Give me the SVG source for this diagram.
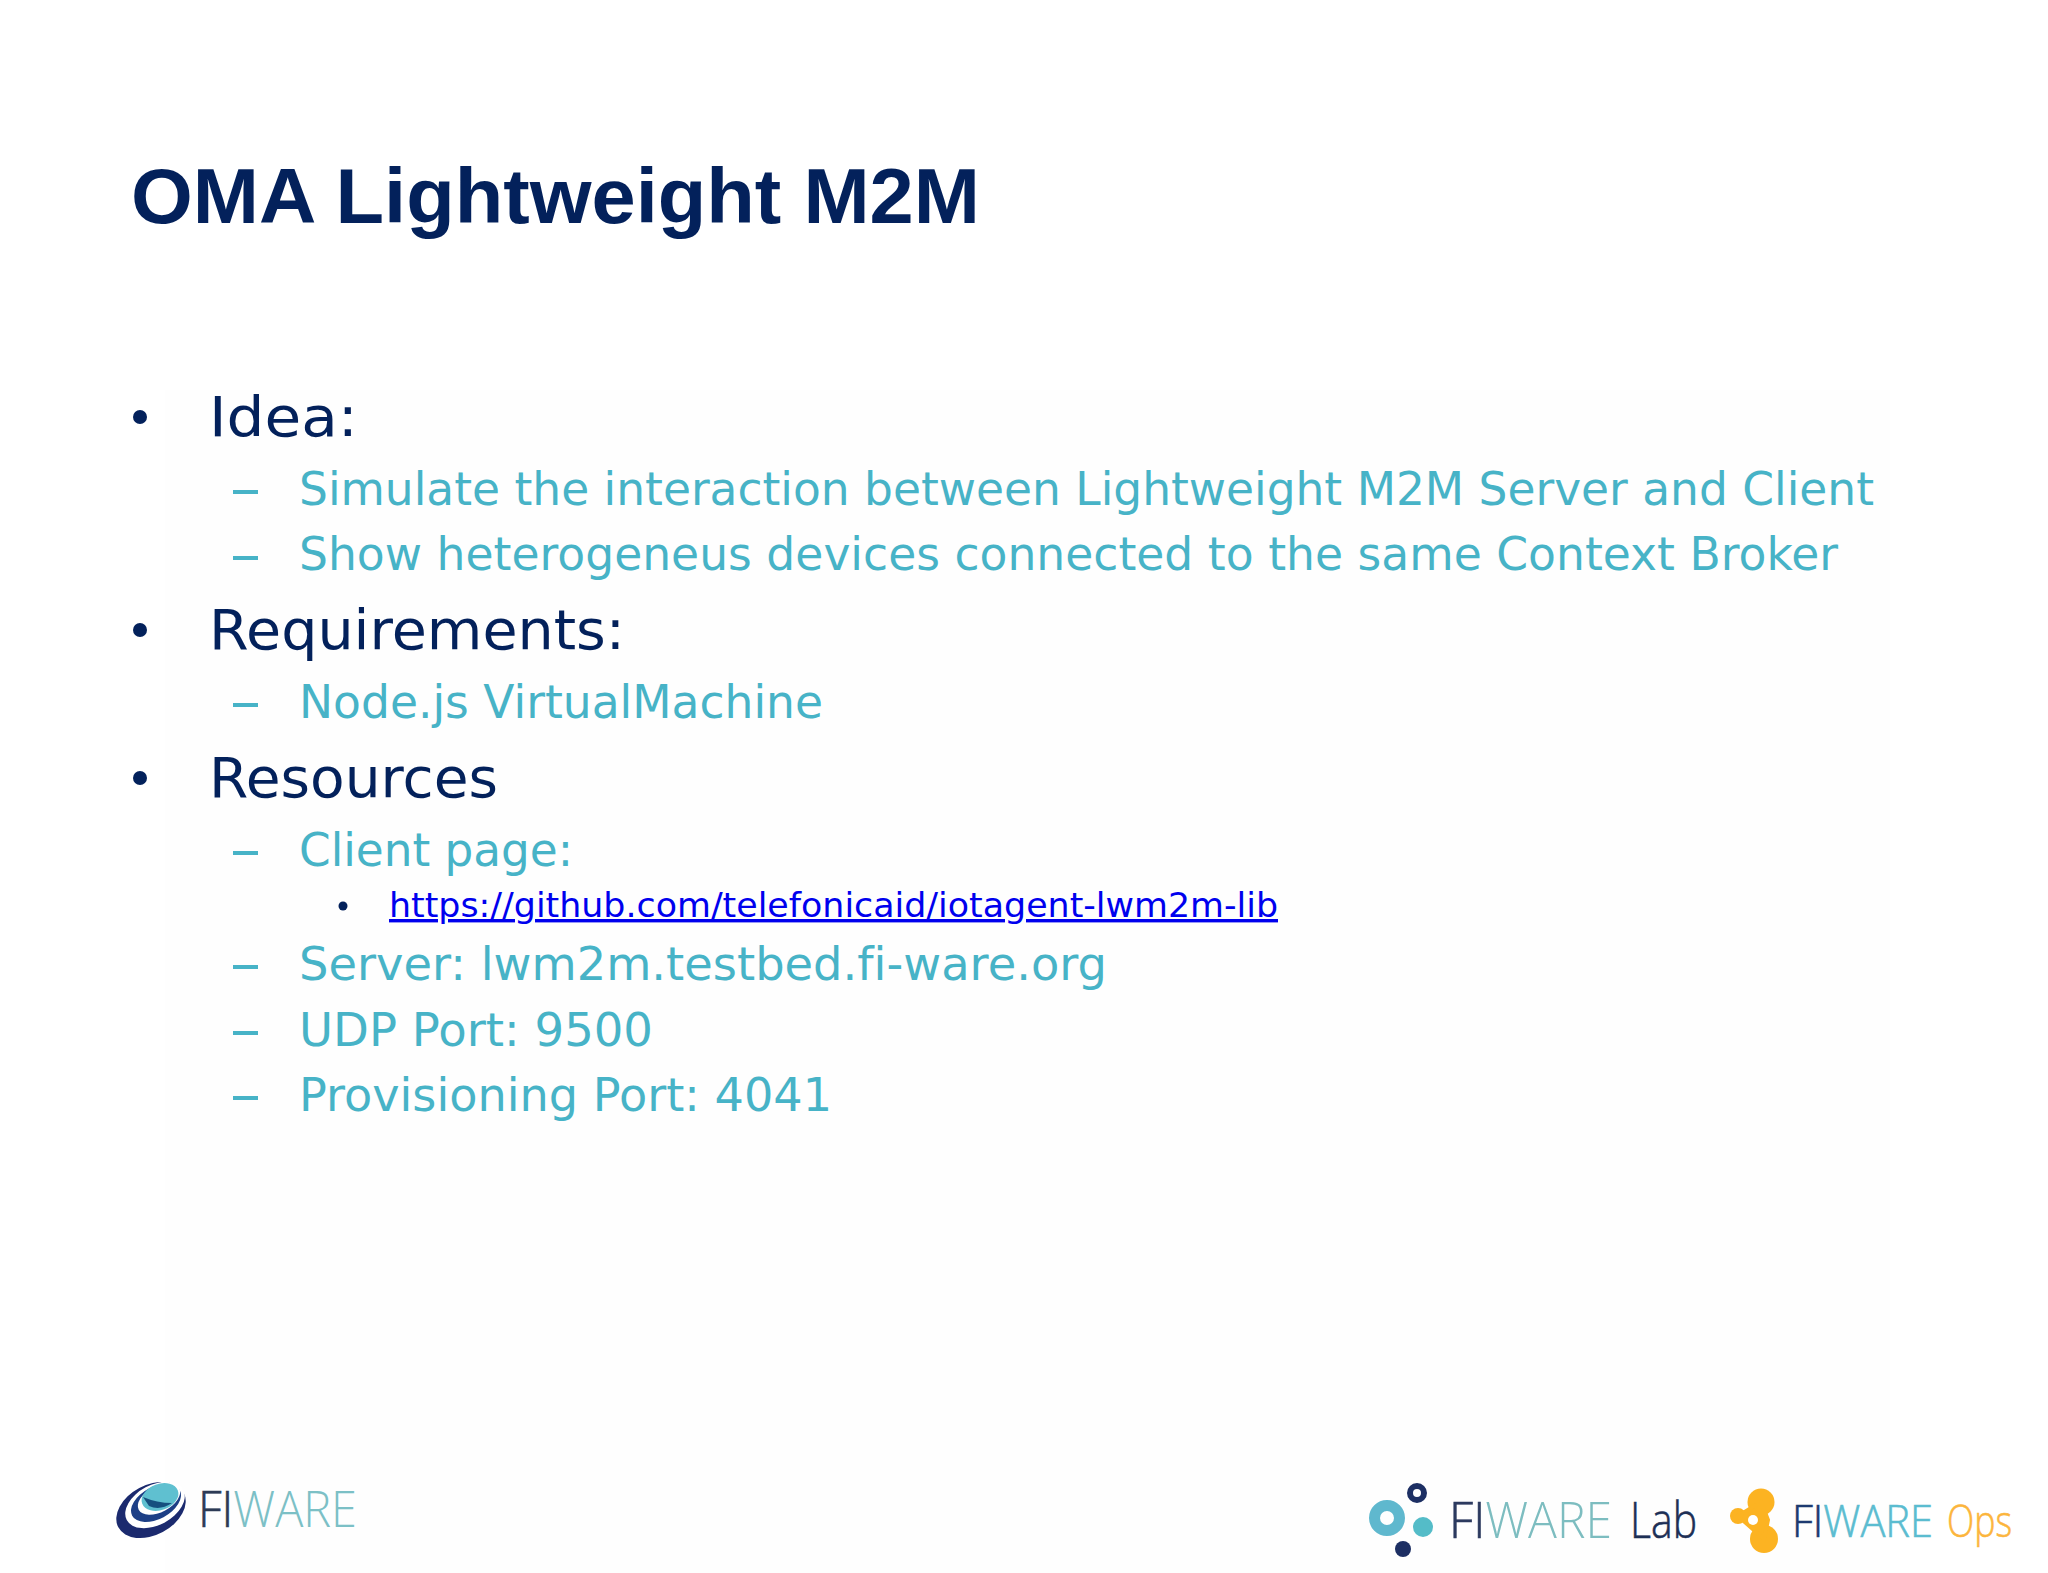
<svg xmlns="http://www.w3.org/2000/svg" width="2048" height="1573" viewBox="0 0 2048 1573">
<style>
text{font-family:"DejaVu Sans",Verdana,sans-serif;font-variant-ligatures:none}
.t{font-family:"Liberation Sans",Arial,sans-serif;font-weight:700;font-size:78px;fill:#03215b}
.a{font-size:56px;fill:#03215b}
.b{font-size:46px;fill:#47b3c7}
.c{font-size:34px;fill:#0000ee;text-decoration:underline}
.d{fill:#47b3c7}
.lg{font-family:"Open Sans","DejaVu Sans",sans-serif;font-weight:300;font-size:49px;stroke-width:.6px}
</style>
<rect width="2048" height="1573" fill="#fff"/>
<rect x="165" y="390" width="1725" height="1183" fill="#fefefe"/>
<g id="title"><text class="t" x="131" y="223" textLength="849" lengthAdjust="spacingAndGlyphs">OMA Lightweight M2M</text></g>
<g id="body">
<circle cx="140" cy="417" r="7" fill="#03215b"/>
<text class="a" x="209" y="436" textLength="149" lengthAdjust="spacingAndGlyphs">Idea:</text>
<rect class="d" x="233" y="490" width="25" height="4"/>
<text class="b" x="299" y="505" textLength="1575" lengthAdjust="spacingAndGlyphs">Simulate the interaction between Lightweight M2M Server and Client</text>
<rect class="d" x="233" y="556" width="25" height="4"/>
<text class="b" x="299" y="570" textLength="1539" lengthAdjust="spacingAndGlyphs">Show heterogeneus devices connected to the same Context Broker</text>
<circle cx="140" cy="630" r="7" fill="#03215b"/>
<text class="a" x="209" y="649" textLength="416" lengthAdjust="spacingAndGlyphs">Requirements:</text>
<rect class="d" x="233" y="703" width="25" height="4"/>
<text class="b" x="299" y="718" textLength="524" lengthAdjust="spacingAndGlyphs">Node.js VirtualMachine</text>
<circle cx="140" cy="778" r="7" fill="#03215b"/>
<text class="a" x="209" y="797" textLength="289" lengthAdjust="spacingAndGlyphs">Resources</text>
<rect class="d" x="233" y="851" width="25" height="4"/>
<text class="b" x="299" y="866" textLength="274" lengthAdjust="spacingAndGlyphs">Client page:</text>
<circle cx="343" cy="906" r="4.5" fill="#03215b"/>
<text class="c" x="389" y="917" textLength="889" lengthAdjust="spacingAndGlyphs">https://github.com/telefonicaid/iotagent-lwm2m-lib</text>
<rect class="d" x="233" y="965" width="25" height="4"/>
<text class="b" x="299" y="980" textLength="808" lengthAdjust="spacingAndGlyphs">Server: lwm2m.testbed.fi-ware.org</text>
<rect class="d" x="233" y="1031" width="25" height="4"/>
<text class="b" x="299" y="1046" textLength="354" lengthAdjust="spacingAndGlyphs">UDP Port: 9500</text>
<rect class="d" x="233" y="1096" width="25" height="4"/>
<text class="b" x="299" y="1111" textLength="533" lengthAdjust="spacingAndGlyphs">Provisioning Port: 4041</text>
</g>
<g id="logo-fiware">
<ellipse cx="151" cy="1510" rx="37" ry="25" fill="#1b2a6e" transform="rotate(-28 151 1510)"/>
<ellipse cx="155" cy="1505" rx="32" ry="20" fill="#fff" transform="rotate(-28 155 1505)"/>
<ellipse cx="156" cy="1503" rx="27" ry="16" fill="#1d3f86" transform="rotate(-28 156 1503)"/>
<ellipse cx="159" cy="1499" rx="23" ry="13" fill="#fff" transform="rotate(-28 159 1499)"/>
<ellipse cx="160" cy="1497" rx="19" ry="13" fill="#5fc0d0" transform="rotate(-20 160 1497)"/>
<path d="M143 1497Q157 1503 172 1503Q160 1511 149 1506Z" fill="#16507f"/>
<text class="lg" x="198" y="1527" textLength="159" lengthAdjust="spacingAndGlyphs"><tspan fill="#2c3a55" stroke="#2c3a55">FI</tspan><tspan fill="#7cc0c6">WARE</tspan></text>
</g>
<g id="logo-lab">
<circle cx="1387" cy="1518" r="12.5" fill="none" stroke="#5fb8ce" stroke-width="11"/>
<circle cx="1417" cy="1493" r="7" fill="none" stroke="#1d2f63" stroke-width="6"/>
<circle cx="1423" cy="1527" r="10" fill="#54bcc8"/>
<circle cx="1403" cy="1549" r="8" fill="#1d2f63"/>
<text class="lg" x="1449" y="1538" textLength="163" lengthAdjust="spacingAndGlyphs"><tspan fill="#2c3a5f" stroke="#2c3a5f">FI</tspan><tspan fill="#7dbdc0">WARE</tspan></text>
<text class="lg" x="1630" y="1538" textLength="67" lengthAdjust="spacingAndGlyphs" fill="#1d2f55" stroke="#1d2f55">Lab</text>
</g>
<g id="logo-ops">
<circle cx="1761" cy="1502" r="13.5" fill="#fcb322"/>
<circle cx="1738" cy="1516" r="8" fill="#fcb322"/>
<circle cx="1764" cy="1539" r="14" fill="#fcb322"/>
<path d="M1761 1502L1738 1516L1764 1539L1768 1520Z" fill="#fcb322" stroke="#fcb322" stroke-width="4"/>
<circle cx="1753" cy="1520" r="5" fill="#fff"/>
<text class="lg" style="font-size:44px" x="1792" y="1537" textLength="141" lengthAdjust="spacingAndGlyphs"><tspan fill="#1d3a70" stroke="#1d3a70">FI</tspan><tspan fill="#5bbcd0" stroke="#5bbcd0">WARE</tspan></text>
<text class="lg" style="font-size:44px" x="1947" y="1537" textLength="65" lengthAdjust="spacingAndGlyphs" fill="#fcb53c" stroke="#fcb53c">Ops</text>
</g>
</svg>
